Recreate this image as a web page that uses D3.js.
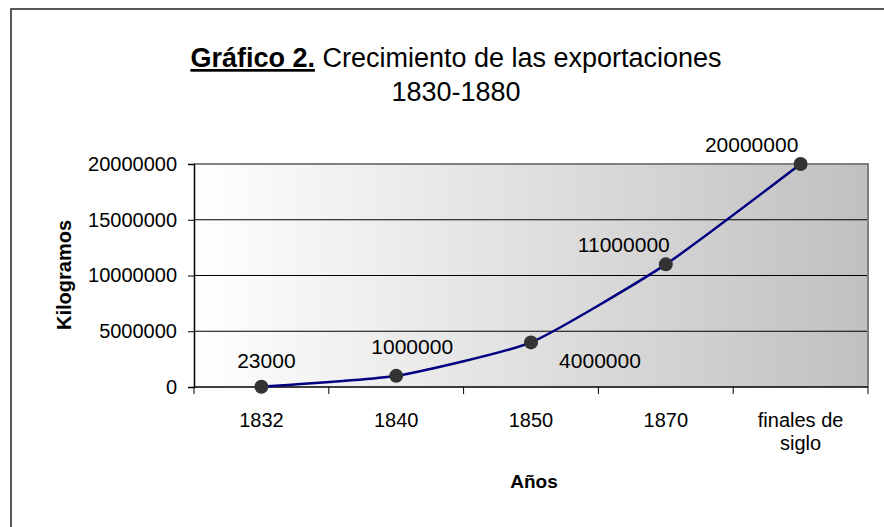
<!DOCTYPE html>
<html><head><meta charset="utf-8">
<script src="https://cdn.jsdelivr.net/npm/d3@7"></script>
<style>body{margin:0;background:#fff}svg{display:block;font-family:"Liberation Sans",Arial,sans-serif}</style>
</head><body>
<svg id="c" width="884" height="527"></svg>
<script>
const categories = ["1832", "1840", "1850", "1870", "finales de siglo"];
const values = [23000, 1000000, 4000000, 11000000, 20000000];
const dataLabels = ["23000", "1000000", "4000000", "11000000", "20000000"];
const yTicks = [0, 5000000, 10000000, 15000000, 20000000];

const svg = d3.select("#c");
const W = 884, H = 527;
const m = {left:194, top:164, right:868, bottom:387};

// outer chart border
svg.append("rect").attr("x",11).attr("y",9).attr("width",W).attr("height",H)
  .attr("fill","#fff").attr("stroke","#222").attr("stroke-width",1.5);

const x = d3.scaleBand().domain(categories).range([m.left, m.right]);
const y = d3.scaleLinear().domain([0, 20000000]).range([m.bottom, m.top]);

// gradient background
const defs = svg.append("defs");
const g = defs.append("linearGradient").attr("id","bg").attr("x1","0").attr("x2","1").attr("y1","0").attr("y2","0");
g.append("stop").attr("offset","0").attr("stop-color","#ffffff");
g.append("stop").attr("offset","1").attr("stop-color","#c0c0c0");
svg.append("rect").attr("x",m.left).attr("y",m.top).attr("width",m.right-m.left).attr("height",m.bottom-m.top)
  .attr("fill","url(#bg)");

// gridlines
svg.append("g").selectAll("line").data(yTicks.slice(1,4)).join("line")
  .attr("x1",m.left).attr("x2",m.right).attr("y1",d=>y(d)).attr("y2",d=>y(d))
  .attr("stroke","#000").attr("stroke-width",1);
// plot border top/right
svg.append("path").attr("d",`M${m.left},${m.top}H${m.right}V${m.bottom}`)
  .attr("fill","none").attr("stroke","#808080").attr("stroke-width",2);

// Y axis
const yAxis = d3.axisLeft(y).tickValues(yTicks).tickFormat(d=>String(d)).tickSizeOuter(0).tickSize(6).tickPadding(11);
const ya = svg.append("g").attr("transform",`translate(${m.left},0)`).call(yAxis);
ya.select(".domain").attr("stroke","#000").attr("stroke-width",1.5);
ya.selectAll(".tick line").attr("stroke","#000");
ya.selectAll("text").attr("font-size",20).attr("fill","#000").attr("font-family","Liberation Sans, Arial, sans-serif");

// X axis
const xa = svg.append("g").attr("transform",`translate(0,${m.bottom})`);
xa.append("line").attr("x1",m.left).attr("x2",m.right).attr("y1",0).attr("y2",0).attr("stroke","#000").attr("stroke-width",1.5);
const bounds = categories.map(c=>x(c)).concat([x(categories[categories.length-1])+x.bandwidth()]);
xa.selectAll("line.t").data(bounds).join("line").attr("class","t")
  .attr("x1",d=>d).attr("x2",d=>d).attr("y1",0).attr("y2",7).attr("stroke","#000");
const xl = xa.selectAll("text.c").data(categories).join("text").attr("class","c")
  .attr("x",d=>x(d)+x.bandwidth()/2).attr("y",40).attr("text-anchor","middle")
  .attr("font-size",20).attr("fill","#000");
xl.each(function(d){
  const t = d3.select(this);
  if(d==="finales de siglo"){
    t.append("tspan").attr("x",x(d)+x.bandwidth()/2).attr("dy",0).text("finales de");
    t.append("tspan").attr("x",x(d)+x.bandwidth()/2).attr("dy",23).text("siglo");
  } else t.text(d);
});

// axis titles
svg.append("text").attr("x",534).attr("y",488).attr("text-anchor","middle")
  .attr("font-size",19).attr("font-weight","bold").text("Años");
svg.append("text").attr("transform","translate(71,275) rotate(-90)").attr("text-anchor","middle")
  .attr("font-size",20).attr("font-weight","bold").text("Kilogramos");

// title
const t1 = svg.append("text").attr("x",456).attr("y",67).attr("text-anchor","middle").attr("font-size",27);
t1.append("tspan").attr("font-weight","bold").attr("text-decoration","underline").text("Gráfico 2.");
t1.append("tspan").text(" Crecimiento de las exportaciones");
svg.append("text").attr("x",456).attr("y",101).attr("text-anchor","middle").attr("font-size",27).text("1830-1880");

// line
const pts = categories.map((c,i)=>[x(c)+x.bandwidth()/2, y(values[i])]);
svg.append("path").attr("d", d3.line().curve(d3.curveCardinal.tension(0.5))(pts))
  .attr("fill","none").attr("stroke","#000080").attr("stroke-width",2.5);
svg.append("g").selectAll("circle").data(pts).join("circle")
  .attr("cx",d=>d[0]).attr("cy",d=>d[1]).attr("r",7).attr("fill","#333");

// data labels
const labOff = [[5,-19],[16,-22],[69,26],[-42,-12],[-49,-12]];
svg.append("g").selectAll("text").data(pts).join("text")
  .attr("x",(d,i)=>d[0]+labOff[i][0]).attr("y",(d,i)=>d[1]+labOff[i][1]).attr("text-anchor","middle")
  .attr("font-size",21).attr("fill","#000").text((d,i)=>dataLabels[i]);
</script>
</body></html>
